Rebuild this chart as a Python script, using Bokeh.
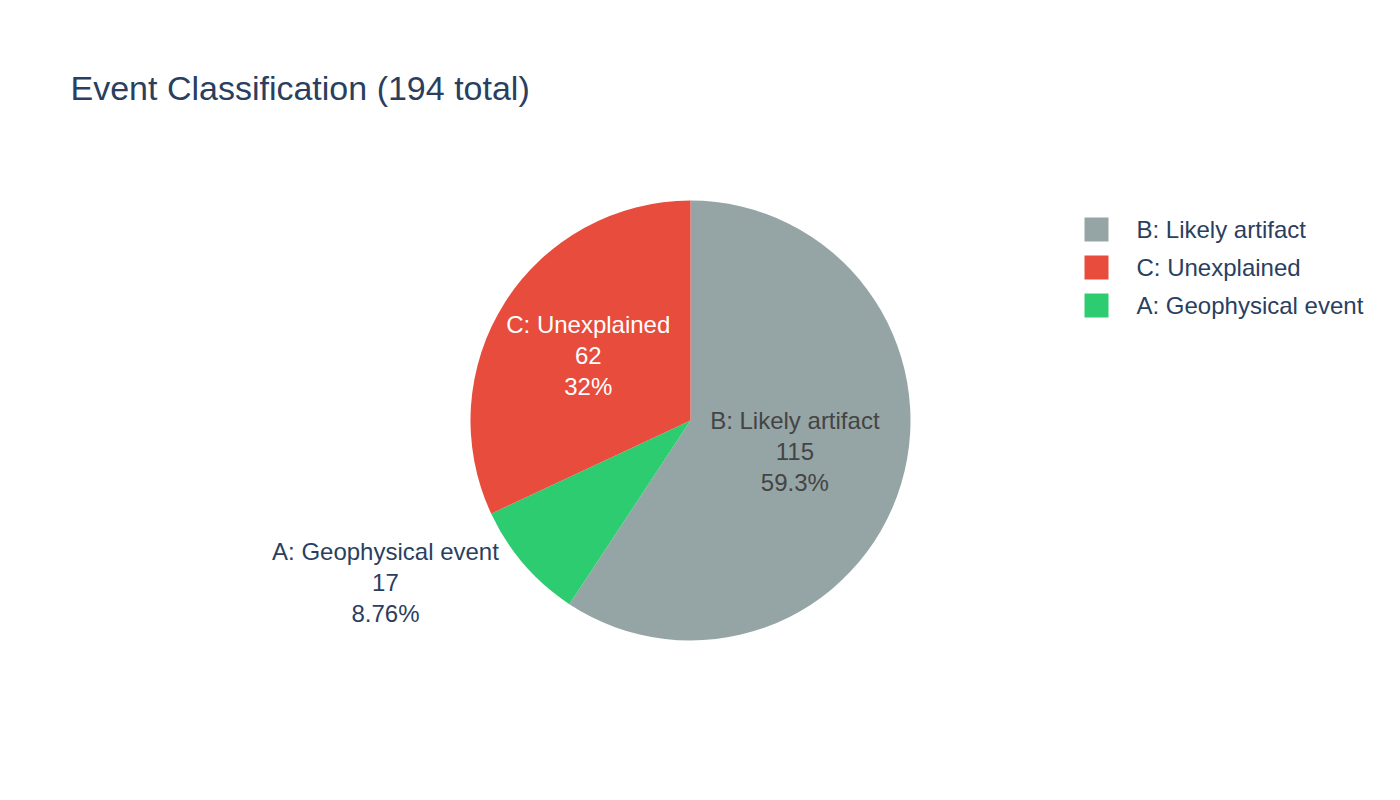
import numpy as np
from bokeh.plotting import figure
from bokeh.models import Range1d, ColumnDataSource
from bokeh.core.properties import value
from bokeh.embed import file_html
from bokeh.resources import INLINE

# ---- data (slice order clockwise from 12 o'clock) ----
categories = ["B: Likely artifact", "A: Geophysical event", "C: Unexplained"]
counts = [115, 17, 62]
colors = ["#95a5a6", "#2ecc71", "#e74c3c"]
label_colors = ["#444444", "#2a3f5f", "#ffffff"]
legend_order = ["B: Likely artifact", "C: Unexplained", "A: Geophysical event"]
title_text = "Event Classification (194 total)"

W, H = 1400, 800
FONT = "Liberation Sans"
DARK = "#2a3f5f"

def Y(ypix):
    return H - ypix

p = figure(width=W, height=H, output_backend="svg", toolbar_location=None,
           x_range=Range1d(0, W), y_range=Range1d(0, H), min_border=0,
           tools="")
p.axis.visible = False
p.grid.visible = False
p.outline_line_color = None
p.background_fill_color = "white"
p.border_fill_color = "white"

# ---- pie ----
cx, cy, R = 690, Y(420), 220
vals = np.array(counts, dtype=float)
total = vals.sum()
frac = vals / total
cum = np.concatenate([[0], np.cumsum(frac)])
end_deg = 90 - 360 * cum[:-1]
start_deg = 90 - 360 * cum[1:]
src = ColumnDataSource(dict(start=np.radians(start_deg), end=np.radians(end_deg),
                            color=colors))
p.wedge(x=cx, y=cy, radius=R, start_angle="start", end_angle="end",
        direction="anticlock", fill_color="color", line_color=None, source=src)

# ---- slice labels ----
mid_deg = (start_deg + end_deg) / 2
label_r = [110, 345, 120]
label_ang = [mid_deg[0], -151.8, mid_deg[2]]
LS = 31
lx, ly, lt, lc = [], [], [], []
for i, cat in enumerate(categories):
    a = np.radians(label_ang[i])
    x0 = cx - 1 + label_r[i] * np.cos(a)
    y0 = cy + 1 + label_r[i] * np.sin(a)
    pct = 100 * counts[i] / total
    lines = [cat, str(counts[i]), f"{pct:.3g}%"]
    for k, t in enumerate(lines):
        lx.append(x0)
        ly.append(y0 + LS - k * LS)
        lt.append(t)
        lc.append(label_colors[i])
p.text(x=lx, y=ly, text=lt, text_color=lc, text_align="center",
       text_baseline="middle", text_font=value(FONT), text_font_size="24px")

# ---- legend ----
leg_colors = [colors[categories.index(c)] for c in legend_order]
leg_y = [Y(229), Y(267), Y(305)]
p.rect(x=[1096] * 3, y=leg_y, width=24, height=24, fill_color=leg_colors,
       line_color=None)
p.text(x=[1136] * 3, y=leg_y, text=legend_order, text_color=DARK,
       text_align="left", text_baseline="middle", text_font=value(FONT),
       text_font_size="24px")

# ---- title ----
p.text(x=[70], y=[Y(87)], text=[title_text], text_color=DARK, text_align="left",
       text_baseline="middle", text_font=value(FONT), text_font_size="34px")

open("out.html", "w").write(file_html(p, INLINE))
